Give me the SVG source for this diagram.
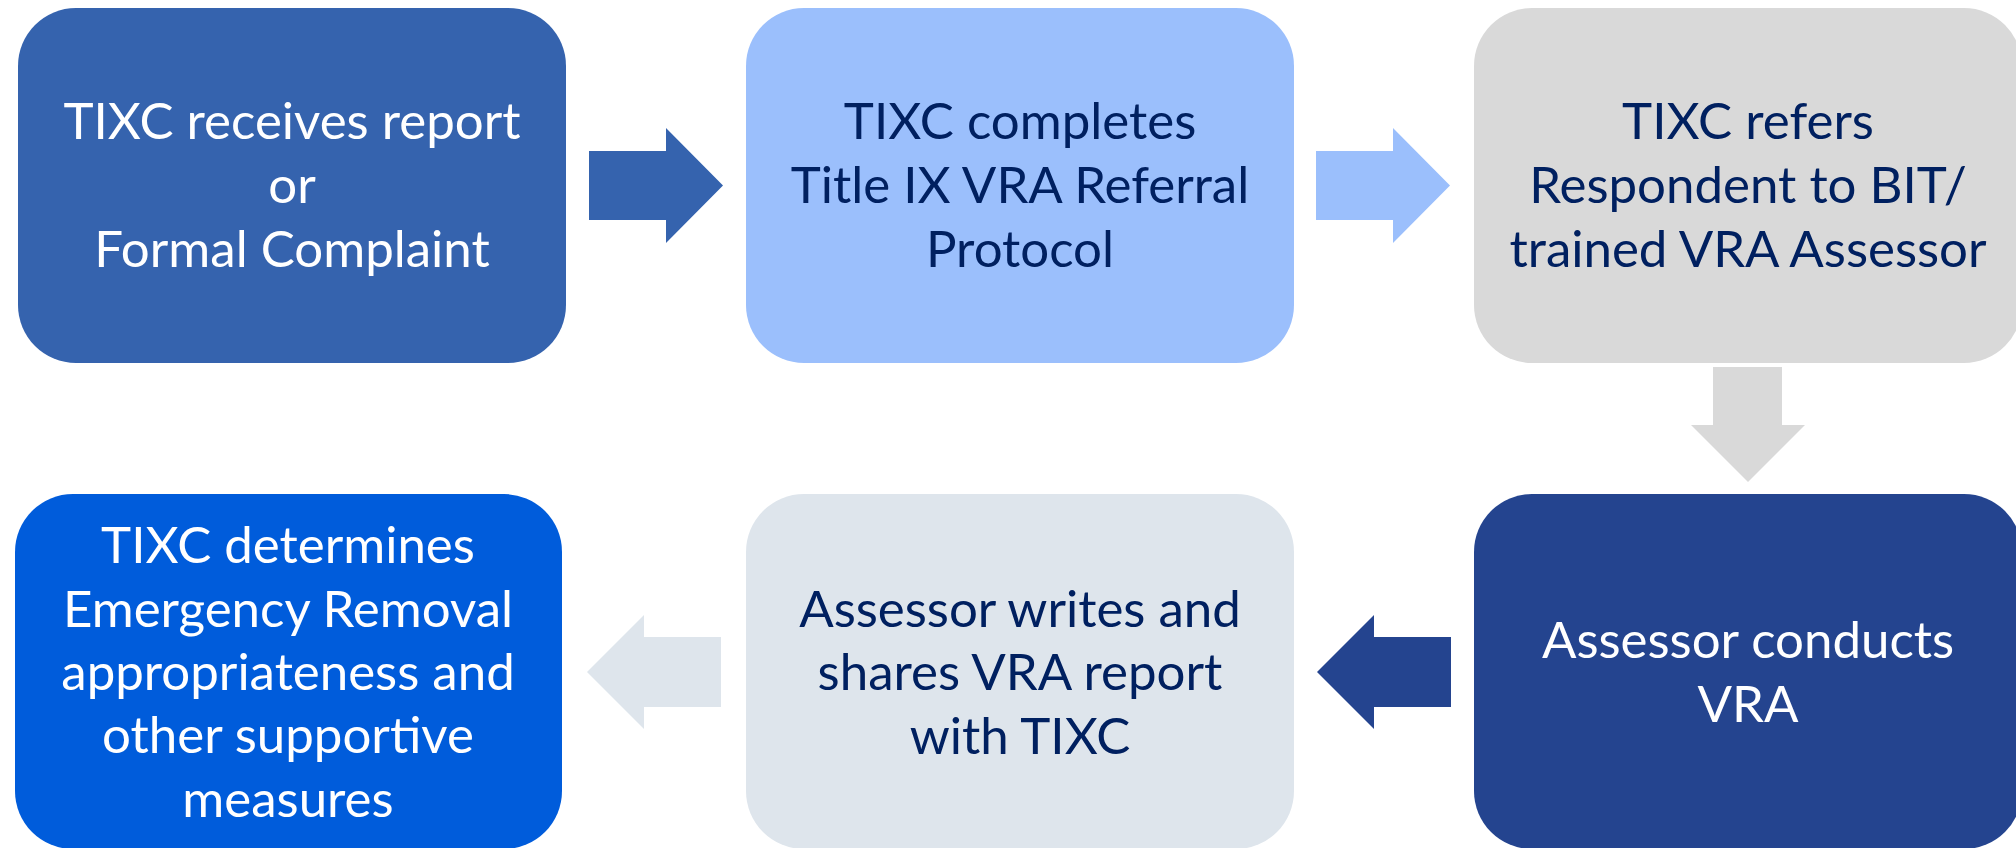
<svg xmlns="http://www.w3.org/2000/svg" width="2016" height="848" viewBox="0 0 2016 848">
  <style>
    .box { stroke: none; }
    .lbl { font-family: Lato, "Open Sans", "Liberation Sans", sans-serif; font-size: 51px; text-anchor: middle; }
    .light { fill: #ffffff; }
    .dark { fill: #002060; }
  </style>
  <rect width="2016" height="848" fill="#ffffff"/>

  <!-- connectors: block arrows between steps -->
  <g id="connectors">
    <path d="M589,151 H666 V128 L723,185.5 L666,243 V220 H589 Z" fill="#3563AE"/>
    <path d="M1316,151 H1393 V128 L1450,185.5 L1393,243 V220 H1316 Z" fill="#9BBFFC"/>
    <path d="M1713,367 H1782 V425 H1805 L1748,482 L1691,425 H1713 Z" fill="#D9D9D9"/>
    <path d="M1451,637 H1374 V615 L1317,672 L1374,729 V707 H1451 Z" fill="#24448F"/>
    <path d="M721,637 H644 V615 L587,672 L644,729 V707 H721 Z" fill="#DEE5EC"/>
  </g>

  <g id="step1">
    <rect class="box" x="18" y="8" width="548" height="355" rx="58" fill="#3563AE"/>
    <text class="lbl light" x="292"><tspan x="292" y="139">TIXC receives report</tspan><tspan x="292" y="203">or</tspan><tspan x="292" y="267">Formal Complaint</tspan></text>
  </g>

  <g id="step2">
    <rect class="box" x="746" y="8" width="548" height="355" rx="58" fill="#9BBFFC"/>
    <text class="lbl dark" x="1020"><tspan x="1020" y="139">TIXC completes</tspan><tspan x="1020" y="203">Title IX VRA Referral</tspan><tspan x="1020" y="267">Protocol</tspan></text>
  </g>

  <g id="step3">
    <rect class="box" x="1474" y="8" width="548" height="355" rx="58" fill="#D9D9D9"/>
    <text class="lbl dark" x="1748"><tspan x="1748" y="139">TIXC refers</tspan><tspan x="1748" y="203">Respondent to BIT/</tspan><tspan x="1748" y="267">trained VRA Assessor</tspan></text>
  </g>

  <g id="step4">
    <rect class="box" x="1474" y="494" width="548" height="355" rx="58" fill="#24448F"/>
    <text class="lbl light" x="1748"><tspan x="1748" y="658">Assessor conducts</tspan><tspan x="1748" y="722">VRA</tspan></text>
  </g>

  <g id="step5">
    <rect class="box" x="746" y="494" width="548" height="355" rx="58" fill="#DEE5EC"/>
    <text class="lbl dark" x="1020"><tspan x="1020" y="627">Assessor writes and</tspan><tspan x="1020" y="690">shares VRA report</tspan><tspan x="1020" y="754">with TIXC</tspan></text>
  </g>

  <g id="step6">
    <rect class="box" x="15" y="494" width="547" height="355" rx="58" fill="#005CDB"/>
    <text class="lbl light" x="288"><tspan x="288" y="563">TIXC determines</tspan><tspan x="288" y="627">Emergency Removal</tspan><tspan x="288" y="690">appropriateness and</tspan><tspan x="288" y="753">other supportive</tspan><tspan x="288" y="817">measures</tspan></text>
  </g>
</svg>
